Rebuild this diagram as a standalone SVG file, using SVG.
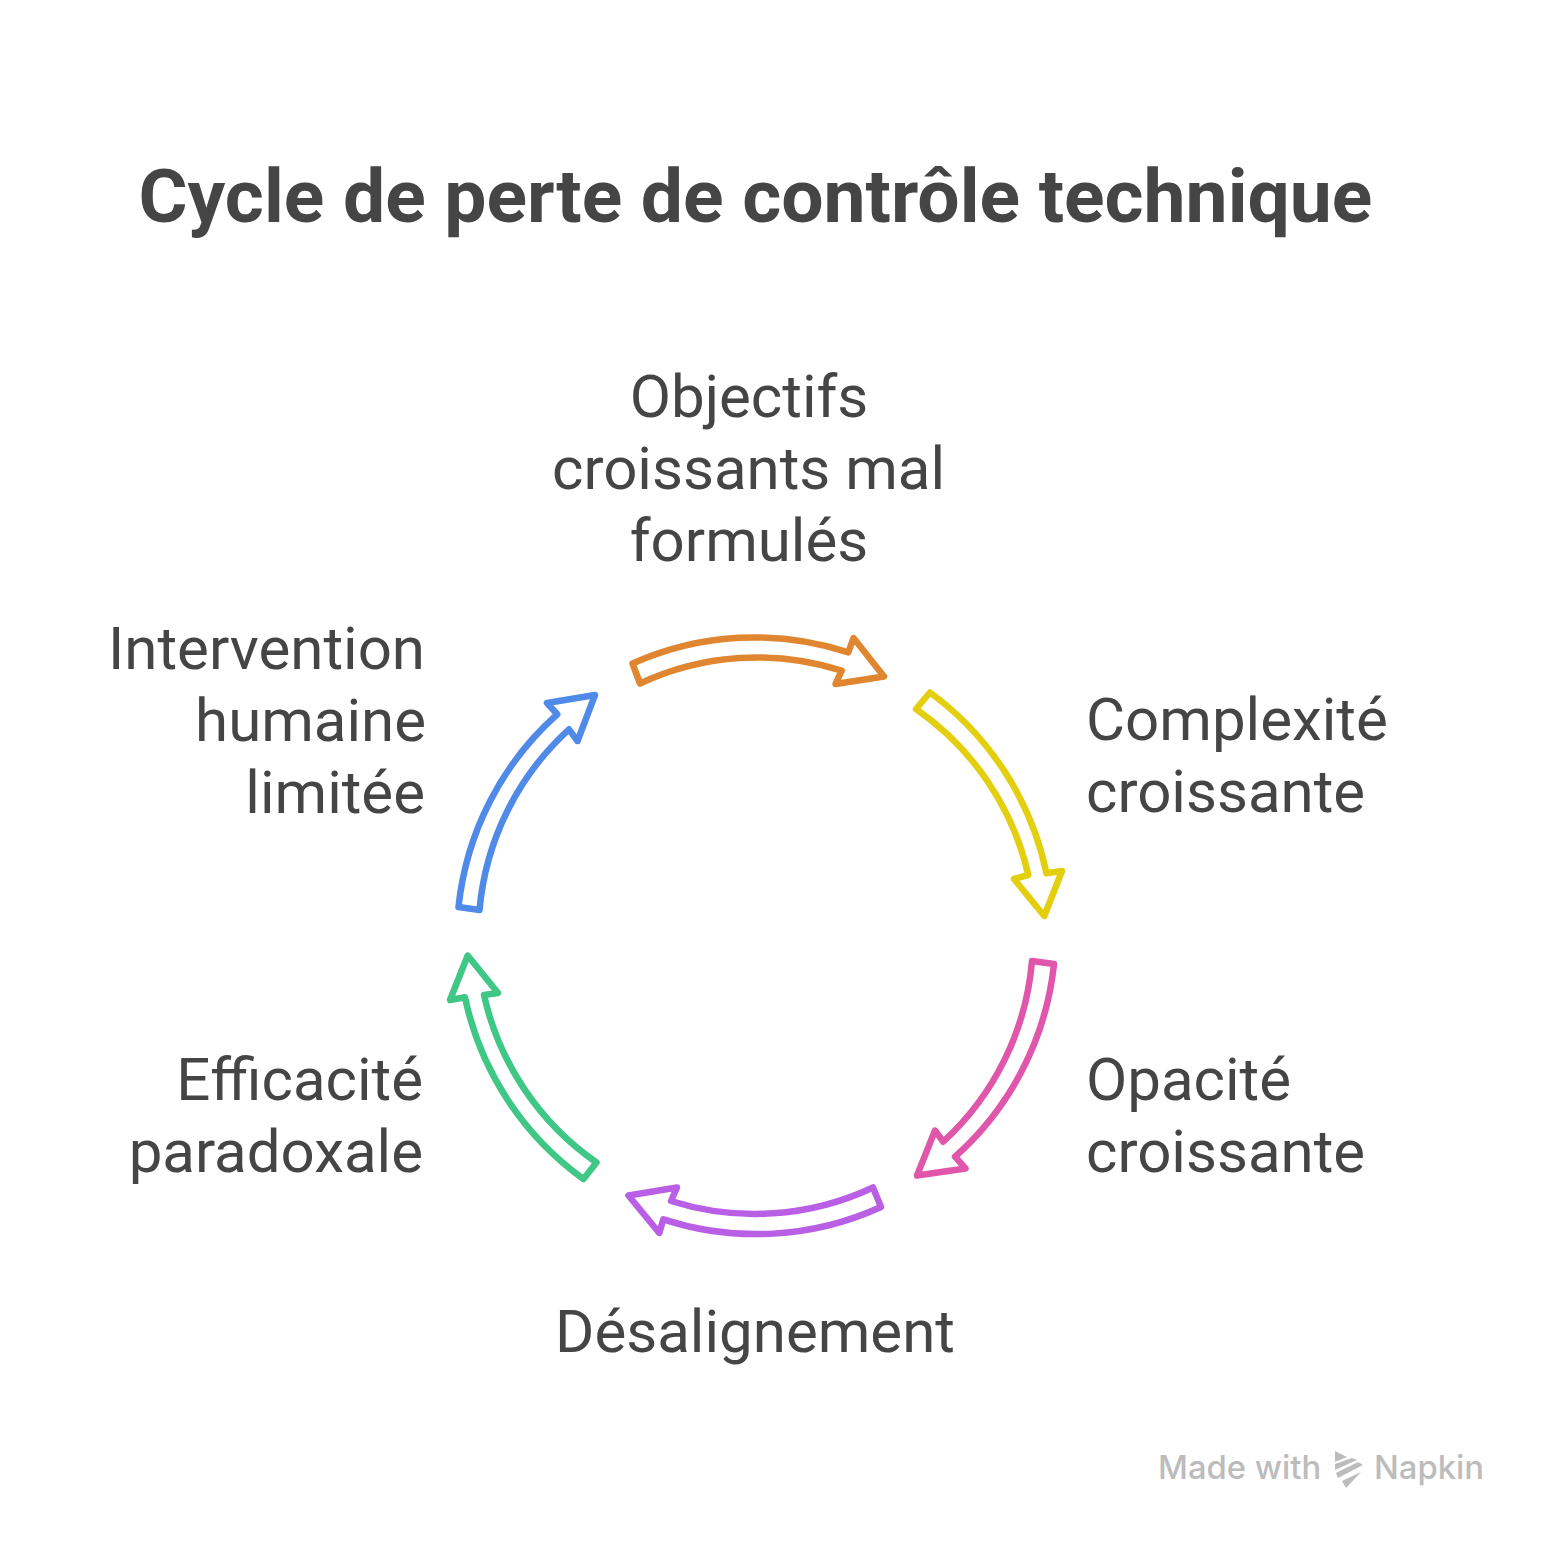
<svg xmlns="http://www.w3.org/2000/svg" width="1548" height="1542" viewBox="0 0 1548 1542">
<style>
text{font-family:Roboto,"Liberation Sans",sans-serif;fill:#454545;font-size:60px}
.t{font-size:75px;font-weight:700}
.e{text-anchor:end}.m{text-anchor:middle}
.a{fill:#fff;stroke-width:6.5;stroke-linejoin:round}
.w{font-family:Inter,Roboto,sans-serif;font-size:32.8px;fill:#bcbcbc;font-weight:500}
</style>
<rect width="1548" height="1542" fill="#fff"/>
<g id="title"><text class="t" x="138.500" y="221.500">Cycle de perte de contrôle technique</text></g>
<g id="connectors">
<path class="a" stroke="#e08631" d="M632.5,663.5A300,300 0 0 1 848.3,652.3L853.5,638L884,676.5L835.5,684L841.7,670.7A277,277 0 0 0 640,683.5Z"/>
<path class="a" stroke="#e3cf0e" d="M930,692.5A300,300 0 0 1 1046.5,873.3L1062,871L1044.3,916L1014,879L1028.3,875A277,277 0 0 0 916,709Z"/>
<path class="a" stroke="#e056ab" d="M1054,964A300,300 0 0 1 955,1156.7L965.5,1168.5L917,1175.5L935,1130.5L943.3,1141.7A277,277 0 0 0 1032,961Z"/>
<path class="a" stroke="#b95fe6" d="M881,1207A300,300 0 0 1 663.3,1219.3L659.3,1233L628.5,1195.5L677,1187.5L671,1201A277,277 0 0 0 873,1187.5Z"/>
<path class="a" stroke="#3ec785" d="M583.5,1179A300,300 0 0 1 465,997.3L450,1000L467.7,955.5L498,993L484,995A277,277 0 0 0 596.5,1162.5Z"/>
<path class="a" stroke="#4f8ae8" d="M458.5,907A300,300 0 0 1 557.3,714.3L547,703L595,695L577.5,741L569,729.3A277,277 0 0 0 479.5,910Z"/>
</g>
<g id="node-objectifs"><text class="m" x="749" y="416.500">Objectifs</text><text class="m" x="748.500" y="488.500">croissants mal</text><text class="m" x="749" y="560.500">formulés</text></g>
<g id="node-complexite"><text x="1086" y="740">Complexité</text><text x="1086" y="812">croissante</text></g>
<g id="node-opacite"><text x="1086" y="1100">Opacité</text><text x="1086" y="1172">croissante</text></g>
<g id="node-desalignement"><text class="m" x="755" y="1352">Désalignement</text></g>
<g id="node-efficacite"><text class="e" x="423" y="1100">Efficacité</text><text class="e" x="423" y="1172">paradoxale</text></g>
<g id="node-intervention"><text class="e" x="425" y="668.500">Intervention</text><text class="e" x="426" y="740.500">humaine</text><text class="e" x="425" y="812.500">limitée</text></g>
<g id="watermark"><text class="w" x="1158" y="1479">Made with</text><text class="w" x="1374" y="1479">Napkin</text>
<path fill="#bcbcbc" d="M1335,1451L1347,1457L1335,1462ZM1335,1464L1352,1458L1357,1460L1335,1470ZM1336,1473L1358,1462L1363,1465L1338,1478ZM1342,1481L1361,1472L1346,1488Z"/></g>
</svg>
